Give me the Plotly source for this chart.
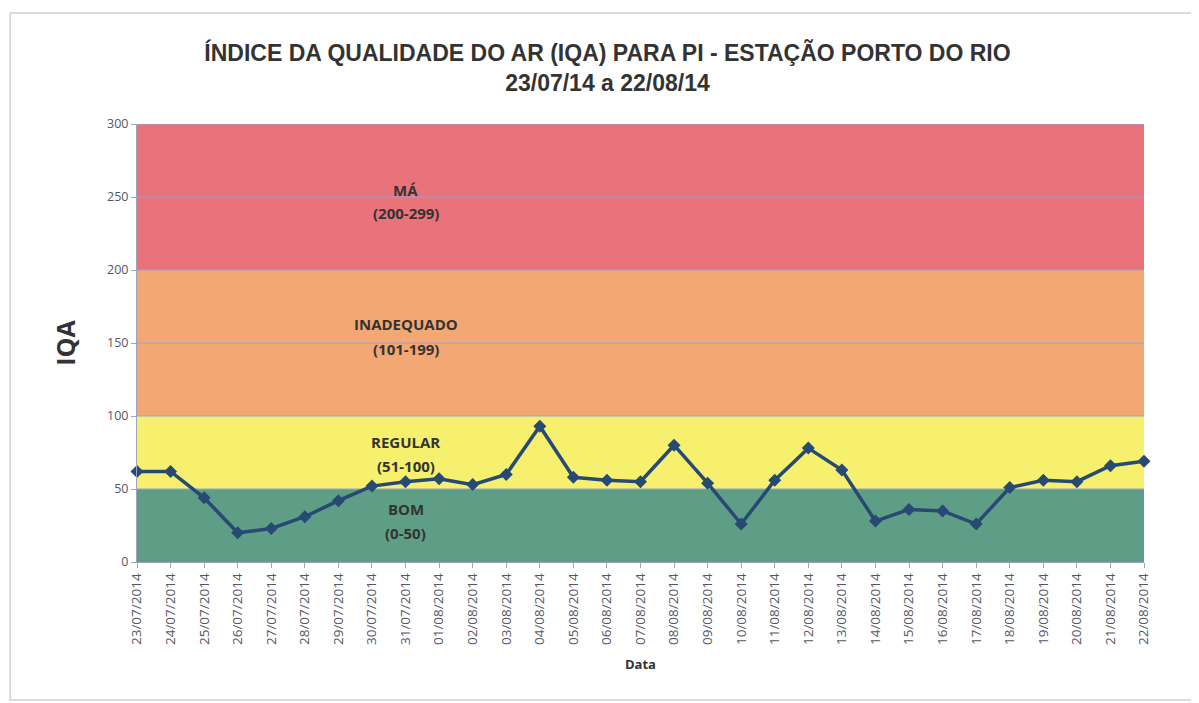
import plotly.graph_objects as go

dates = ["23/07/2014", "24/07/2014", "25/07/2014", "26/07/2014", "27/07/2014", "28/07/2014",
         "29/07/2014", "30/07/2014", "31/07/2014", "01/08/2014", "02/08/2014", "03/08/2014",
         "04/08/2014", "05/08/2014", "06/08/2014", "07/08/2014", "08/08/2014", "09/08/2014",
         "10/08/2014", "11/08/2014", "12/08/2014", "13/08/2014", "14/08/2014", "15/08/2014",
         "16/08/2014", "17/08/2014", "18/08/2014", "19/08/2014", "20/08/2014", "21/08/2014",
         "22/08/2014"]
iqa = [62, 62, 44, 20, 23, 31, 42, 52, 55, 57, 53, 60,
       93, 58, 56, 55, 80, 54, 26, 56, 78, 63, 28, 36,
       35, 26, 51, 56, 55, 66, 69]

band_low = [0, 50, 100, 200]
band_high = [50, 100, 200, 300]
band_colors = ["#5f9e86", "#f6f06e", "#f3a874", "#e9737a"]
band_names = ["BOM", "REGULAR", "INADEQUADO", "MÁ"]
band_ranges = ["(0-50)", "(51-100)", "(101-199)", "(200-299)"]
label_y_top = [36, 82, 163, 255]
label_y_bot = [20, 66, 146, 239]
y_ticks = [0, 50, 100, 150, 200, 250, 300]

fig = go.Figure()

shapes = []
for lo, hi, c in zip(band_low, band_high, band_colors):
    shapes.append(dict(type="rect", xref="paper", yref="y", x0=0, x1=1, y0=lo, y1=hi,
                       fillcolor=c, line=dict(width=0), layer="below"))
# gridlines drawn over the bands
for t in y_ticks[1:]:
    shapes.append(dict(type="line", xref="paper", yref="y", x0=0, x1=1, y0=t, y1=t,
                       line=dict(color="#9aa0d4", width=1.2), layer="below"))
# outer chart border
shapes.append(dict(type="rect", xref="paper", yref="paper", x0=-0.126, x1=1.0506,
                   y0=-0.315, y1=1.2534, line=dict(color="#d0d0d8", width=1.5),
                   fillcolor="rgba(0,0,0,0)", layer="below"))

fig.add_trace(go.Scatter(
    x=dates, y=iqa, mode="lines+markers",
    line=dict(color="#264a73", width=3.5),
    marker=dict(symbol="diamond", size=10, color="#264a73"),
    cliponaxis=False, showlegend=False,
))

annotations = []
label_x = dates[8]
lab_font = dict(size=15, color="#333333", family="Open Sans, Liberation Sans")
for n, r, yt, yb in zip(band_names, band_ranges, label_y_top, label_y_bot):
    annotations.append(dict(x=label_x, y=yt, xref="x", yref="y", text="<b>" + n + "</b>",
                            showarrow=False, font=lab_font))
    annotations.append(dict(x=label_x, y=yb, xref="x", yref="y", text="<b>" + r + "</b>",
                            showarrow=False, font=lab_font))

fig.update_layout(
    width=1199, height=703,
    margin=dict(l=129, r=63, t=116, b=149),
    paper_bgcolor="white", plot_bgcolor="white",
    shapes=shapes, annotations=annotations,
    title=dict(
        text="<b>ÍNDICE DA QUALIDADE DO AR (IQA) PARA PI - ESTAÇÃO PORTO DO RIO<br>23/07/14 a 22/08/14</b>",
        x=0.5, xanchor="center", y=0.925, yanchor="middle",
        font=dict(size=23, color="#333333", family="Liberation Sans Narrow, Arial Narrow, Liberation Sans"),
    ),
    xaxis=dict(
        type="category", range=[0, len(dates) - 1], tickangle=-90,
        tickfont=dict(size=13.5, color="#555566", family="Open Sans, Liberation Sans"),
        showgrid=False, ticks="outside", ticklen=5, tickcolor="#a0a4b8",
        showline=True, linecolor="#a0a4b8", linewidth=1,
        title=dict(text="<b>Data</b>", font=dict(size=13, color="#333333",
                   family="Open Sans, Liberation Sans"), standoff=15),
    ),
    yaxis=dict(
        range=[0, 300], tickvals=y_ticks,
        tickfont=dict(size=12.5, color="#555566", family="Open Sans, Liberation Sans"),
        showgrid=False,
        ticks="outside", ticklen=5, tickcolor="#a0a4b8",
        showline=True, linecolor="#a0a4b8", linewidth=1, zeroline=False,
        title=dict(text="<b>IQA</b>", font=dict(size=25, color="#333333",
                   family="Open Sans, Liberation Sans"), standoff=24),
    ),
)

fig.write_html("out.html")
